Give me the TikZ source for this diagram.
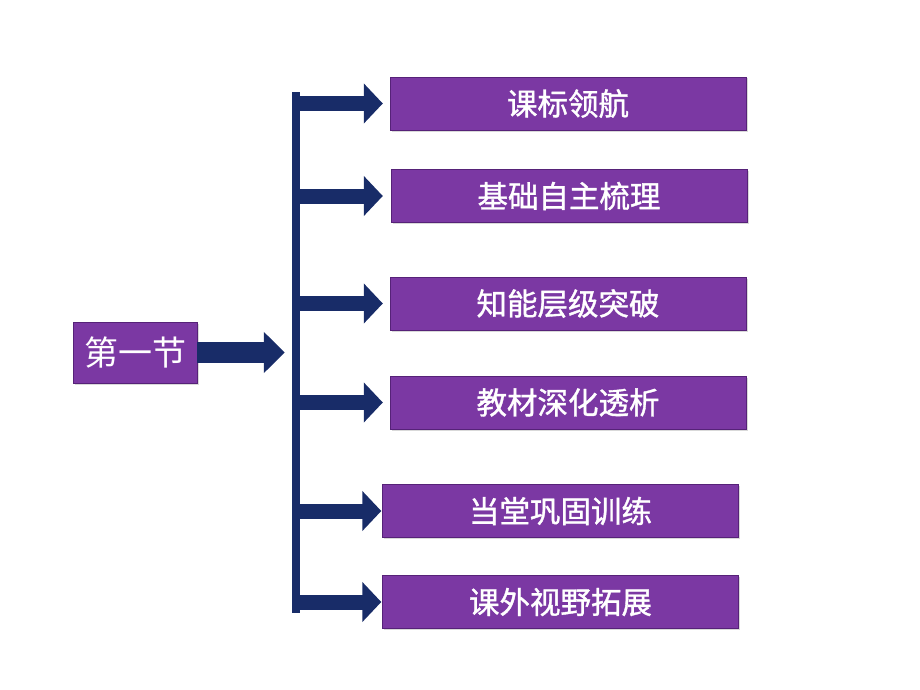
\documentclass[tikz,border=0pt]{standalone}
\usepackage{fontspec}
\newfontfamily\cjk{Noto Sans CJK SC}
\newfontfamily\cjkmid[FakeBold=1.2]{Noto Sans CJK SC}
\usepackage{xcolor}
\usepackage{tikz}
\usetikzlibrary{arrows.meta,shadows}

\definecolor{boxpurple}{RGB}{123,56,163}
\definecolor{boxedge}{RGB}{86,34,120}
\definecolor{barnavy}{RGB}{24,44,104}

\begin{document}
\begin{tikzpicture}[
    x=1pt, y=-1pt,
    box/.style={rectangle, draw=boxedge, fill=boxpurple, minimum width=356pt, minimum height=53pt, text=white, font=\cjkmid\fontsize{30.5}{32}\selectfont, drop shadow={opacity=0.3, shadow xshift=1.5pt, shadow yshift=-1.5pt}},
    secbox/.style={box, minimum width=124pt, minimum height=61pt, font=\cjk\fontsize{34}{36}\selectfont},
    barbox/.style={rectangle, fill=barnavy, minimum width=8pt, minimum height=521pt, inner sep=0pt},
    bigarrow/.style={barnavy, line width=21pt, -{Triangle[length=21pt, width=40pt]}},
    branch/.style={barnavy, line width=15pt, -{Triangle[length=19pt, width=39pt]}}
]
\useasboundingbox (0,0) rectangle (920,690);

\node[secbox] (sec) at (135,352.5) {第一节};
\node[barbox] (bar) at (296,352.5) {};

\node[box] (b1) at (568,103.5) {课标领航};
\node[box] (b2) at (569,196) {基础自主梳理};
\node[box] (b3) at (568,303.5) {知能层级突破};
\node[box] (b4) at (568,402.5) {教材深化透析};
\node[box] (b5) at (560.5,511) {当堂巩固训练};
\node[box] (b6) at (560.5,602) {课外视野拓展};

\draw[bigarrow, shorten >=7pt] (sec.east) -- (bar.west |- sec.east);
\draw[branch, shorten >=7pt] (bar.east |- b1.west) -- (b1.west);
\draw[branch, shorten >=8pt] (bar.east |- b2.west) -- (b2.west);
\draw[branch, shorten >=7pt] (bar.east |- b3.west) -- (b3.west);
\draw[branch, shorten >=7pt] (bar.east |- b4.west) -- (b4.west);
\draw[branch, shorten >=1pt] (bar.east |- b5.west) -- (b5.west);
\draw[branch, shorten >=1pt] (bar.east |- b6.west) -- (b6.west);
\end{tikzpicture}
\end{document}
